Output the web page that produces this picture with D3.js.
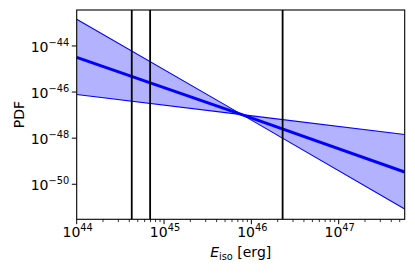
<!DOCTYPE html>
<html>
<head>
<meta charset="utf-8">
<script src="https://cdn.jsdelivr.net/npm/d3@7"></script>
<style>
  body { margin: 0; background: #fff; }
  svg { font-family: "DejaVu Sans", sans-serif; }
</style>
</head>
<body>
<svg id="chart" width="415" height="277"></svg>
<script>
"use strict";

const energies = [1e44, 7.8e45, 5.7e47];
// median PDF line
const pdfMedian = [3.2e-45, 1.05e-47, 3.4e-50];
// steep edge of the band
const pdfSteep = [1.45e-43, 1.05e-47, 8.5e-52];
// shallow edge of the band
const pdfShallow = [7.8e-47, 1.05e-47, 1.45e-48];
// vertical markers
const markers = [4.27e44, 6.93e44, 2.28e46];

const xTickExp = [44, 45, 46, 47];
const yTickExp = [-50, -48, -46, -44];

const margin = { left: 76.7, top: 10, right: 10.3, bottom: 57.7 };
const width = 415 - margin.left - margin.right;
const height = 277 - margin.top - margin.bottom;

const svg = d3.select("#chart");
const g = svg.append("g").attr("transform", `translate(${margin.left},${margin.top})`);

const x = d3.scaleLog().domain([1e44, 5.7e47]).range([0, width]);
const y = d3.scaleLog().domain([Math.pow(10, -51.52), Math.pow(10, -42.44)]).range([height, 0]);

svg.append("defs").append("clipPath").attr("id", "clip")
  .append("rect").attr("width", width).attr("height", height);

const plot = g.append("g").attr("clip-path", "url(#clip)");

// band between the two edges
const bandData = energies.map((e, i) => ({ e, a: pdfSteep[i], b: pdfShallow[i] }));
plot.append("path")
  .datum(bandData)
  .attr("d", d3.area().x((d) => x(d.e)).y0((d) => y(d.a)).y1((d) => y(d.b)))
  .attr("fill", "rgb(178,178,255)")
  .attr("stroke", "none");

const line = d3.line().x((d) => x(d[0])).y((d) => y(d[1]));
[pdfSteep, pdfShallow].forEach((arr) => {
  plot.append("path")
    .datum(energies.map((e, i) => [e, arr[i]]))
    .attr("d", line)
    .attr("fill", "none")
    .attr("stroke", "blue")
    .attr("stroke-width", 1.1);
});

plot.append("path")
  .datum(energies.map((e, i) => [e, pdfMedian[i]]))
  .attr("d", line)
  .attr("fill", "none")
  .attr("stroke", "blue")
  .attr("stroke-width", 3);

// vertical lines
plot.selectAll("line.marker")
  .data(markers)
  .enter()
  .append("line")
  .attr("class", "marker")
  .attr("x1", (d) => x(d)).attr("x2", (d) => x(d))
  .attr("y1", 0).attr("y2", height)
  .attr("stroke", "black")
  .attr("stroke-width", 1.8);

// x ticks: major + minor
const minorX = [];
for (let p = 44; p <= 47; p++) {
  for (let m = 2; m <= 9; m++) {
    const v = m * Math.pow(10, p);
    if (v <= 5.7e47) minorX.push(v);
  }
}
g.selectAll("line.xminor")
  .data(minorX)
  .enter()
  .append("line")
  .attr("x1", (d) => x(d)).attr("x2", (d) => x(d))
  .attr("y1", height).attr("y2", height + 2.8)
  .attr("stroke", "black").attr("stroke-width", 0.8);

g.selectAll("line.xmajor")
  .data(xTickExp)
  .enter()
  .append("line")
  .attr("x1", (d) => x(Math.pow(10, d))).attr("x2", (d) => x(Math.pow(10, d)))
  .attr("y1", height).attr("y2", height + 4.9)
  .attr("stroke", "black").attr("stroke-width", 1);

const xLab = g.selectAll("text.xlab")
  .data(xTickExp)
  .enter()
  .append("text")
  .attr("x", (d) => x(Math.pow(10, d)) + 1)
  .attr("y", height + 18)
  .attr("text-anchor", "middle")
  .attr("font-size", 14);
xLab.append("tspan").text("10");
xLab.append("tspan").attr("font-size", 9.8).attr("dy", -6).text((d) => d);

g.selectAll("line.ymajor")
  .data(yTickExp)
  .enter()
  .append("line")
  .attr("x1", -4.9).attr("x2", 0)
  .attr("y1", (d) => y(Math.pow(10, d))).attr("y2", (d) => y(Math.pow(10, d)))
  .attr("stroke", "black").attr("stroke-width", 1);

const yLab = g.selectAll("text.ylab")
  .data(yTickExp)
  .enter()
  .append("text")
  .attr("x", -7.5)
  .attr("y", (d) => y(Math.pow(10, d)) + 6)
  .attr("text-anchor", "end")
  .attr("font-size", 14);
yLab.append("tspan").text("10");
yLab.append("tspan").attr("font-size", 9.8).attr("dy", -6).text((d) => "\u2212" + Math.abs(d));

// frame
g.append("rect")
  .attr("width", width).attr("height", height)
  .attr("fill", "none").attr("stroke", "black").attr("stroke-width", 1.1);

// axis labels
const xt = svg.append("text")
  .attr("x", margin.left + width / 2)
  .attr("y", 257)
  .attr("text-anchor", "middle")
  .attr("font-size", 14);
xt.append("tspan").attr("font-style", "italic").text("E");
xt.append("tspan").attr("font-size", 9.8).attr("dy", 3).text("iso");
xt.append("tspan").attr("dy", -3).text(" [erg]");

svg.append("text")
  .attr("transform", `translate(23.5,${margin.top + height / 2}) rotate(-90)`)
  .attr("text-anchor", "middle")
  .attr("font-size", 14)
  .text("PDF");
</script>
</body>
</html>
